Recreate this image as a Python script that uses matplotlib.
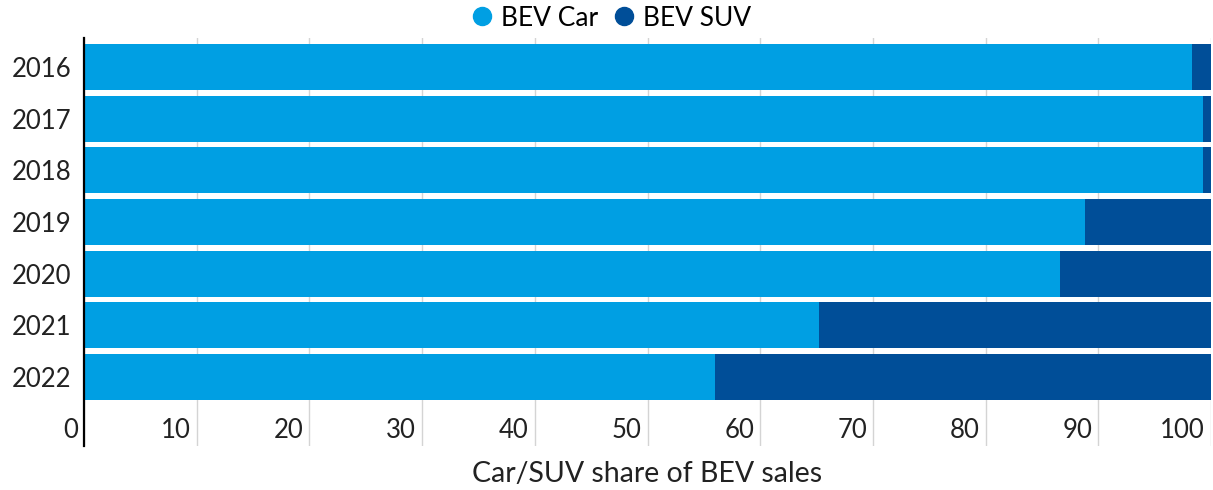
import matplotlib
matplotlib.use("Agg")
import matplotlib.pyplot as plt
import matplotlib.transforms as mtransforms
import numpy as np

years = ["2016", "2017", "2018", "2019", "2020", "2021", "2022"]
bev_car = [98.3, 99.3, 99.3, 88.8, 86.6, 65.2, 56.0]
bev_suv = [100 - v for v in bev_car]
xticks = [0, 10, 20, 30, 40, 50, 60, 70, 80, 90, 100]

car_color = "#009FE3"
suv_color = "#004E98"

plt.rcParams['font.family'] = ['Lato', 'DejaVu Sans']

W, H = 1213, 490
fig = plt.figure(figsize=(W / 100, H / 100), dpi=100)
ax = fig.add_axes([84 / W, 44 / H, (1211 - 84) / W, (446 - 38) / H])

y = np.arange(len(years))
ax.barh(y, bev_car, height=0.89, color=car_color, label="BEV Car", zorder=2)
ax.barh(y, bev_suv, left=bev_car, height=0.89, color=suv_color, label="BEV SUV", zorder=2)

ax.set_xlim(0, 100)
ax.set_ylim(7.335, -0.561)
ax.set_yticks(y)
ax.set_yticklabels(years, fontsize=18.5, color="#222222")
ax.tick_params(axis='y', length=0, pad=9)

ax.set_xticks(xticks)
ax.set_xticklabels([str(t) for t in xticks], fontsize=18.5, color="#222222")
ax.tick_params(axis='x', length=0, pad=-20)
offset = mtransforms.ScaledTranslation(-6 / 100, 0, fig.dpi_scale_trans)
for lab in ax.get_xticklabels():
    lab.set_horizontalalignment('right')
    lab.set_transform(lab.get_transform() + offset)

ax.grid(axis='x', color="#d4d4d4", linewidth=1, zorder=0)
ax.set_axisbelow(True)
for s in ['top', 'right', 'bottom']:
    ax.spines[s].set_visible(False)
ax.spines['left'].set_linewidth(1.6)
ax.spines['left'].set_color('black')

ax.set_xlabel("Car/SUV share of BEV sales", fontsize=20.5, color="#222222", labelpad=10.5)

handles = [
    plt.Line2D([], [], marker='o', linestyle='', markersize=13, color=car_color),
    plt.Line2D([], [], marker='o', linestyle='', markersize=13, color=suv_color),
]
fig.legend(handles, ["BEV Car", "BEV SUV"], loc='center', bbox_to_anchor=(0.503, 1 - 18 / H),
           ncol=2, frameon=False, fontsize=19, handletextpad=0.2, columnspacing=0.5,
           handlelength=1.0, borderaxespad=0)

fig.savefig("out.png", dpi=100)
